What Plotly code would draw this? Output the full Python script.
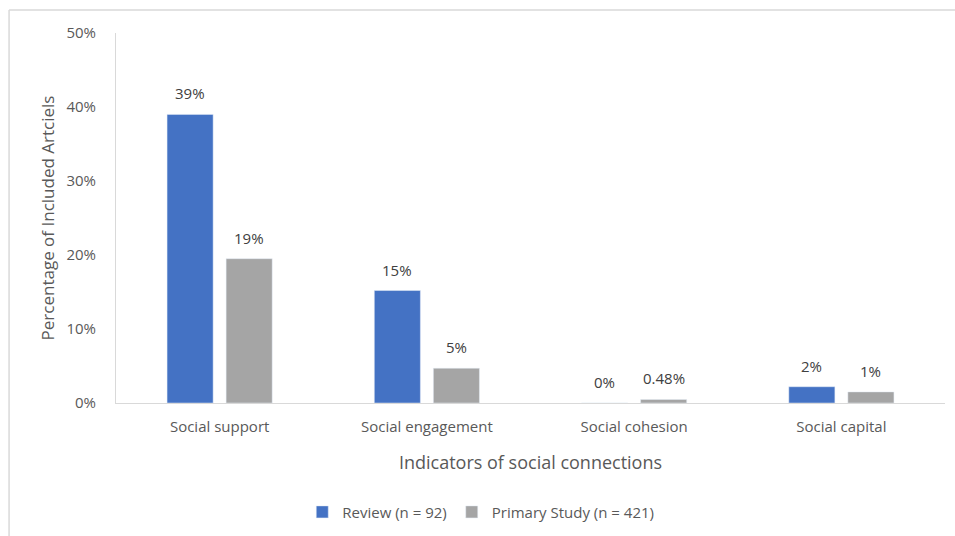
import plotly.graph_objects as go

categories = ["Social support", "Social engagement", "Social cohesion", "Social capital"]
review_vals = [39.0, 15.2, 0.0, 2.2]
primary_vals = [19.5, 4.7, 0.48, 1.5]
review_labels = ["39%", "15%", "0%", "2%"]
primary_labels = ["19%", "5%", "0.48%", "1%"]
y_ticks = [0, 10, 20, 30, 40, 50]
y_tick_text = ["0%", "10%", "20%", "30%", "40%", "50%"]

FONT = "Open Sans, Noto Sans, sans-serif"

fig = go.Figure()
fig.add_trace(go.Bar(
    x=categories, y=review_vals, name="Review (n = 92)",
    marker=dict(color="#4472C4"),
))
fig.add_trace(go.Bar(
    x=categories, y=primary_vals, name="Primary Study (n = 421)",
    marker=dict(color="#A5A5A5"),
))

annotations = []
for vals, labels, shift in [(review_vals, review_labels, -29.5), (primary_vals, primary_labels, 29.5)]:
    for c, v, t in zip(categories, vals, labels):
        annotations.append(dict(x=c, y=v, xref="x", yref="y", text=t, showarrow=False,
                                xshift=shift, yshift=21, yanchor="middle",
                                font=dict(size=15, color="#404040", family=FONT)))

fig.update_layout(
    width=955, height=536,
    margin=dict(l=116, r=10, t=33, b=133, autoexpand=False),
    paper_bgcolor="white", plot_bgcolor="white",
    barmode="group", bargap=0.43, bargroupgap=0.22,
    font=dict(family=FONT, color="#595959", size=15),
    showlegend=True,
    legend=dict(orientation="h", x=0.44, xanchor="center", y=-0.295, yanchor="middle",
                font=dict(size=15, color="#595959"), itemwidth=30,
                traceorder="normal"),
    annotations=annotations,
    shapes=[
        dict(type="line", xref="paper", yref="paper", x0=-0.129, x1=1.02, y0=1.062, y1=1.062,
             line=dict(color="#D9D9D9", width=1.5)),
        dict(type="line", xref="paper", yref="paper", x0=-0.129, x1=-0.129, y0=1.062, y1=-0.37,
             line=dict(color="#D9D9D9", width=1.5)),
    ],
)
fig.update_xaxes(
    automargin=False,
    showline=True, linecolor="#D9D9D9", linewidth=1, showgrid=False, ticks="",
    tickfont=dict(size=15, color="#595959"), ticklabelstandoff=10,
    title=dict(text="Indicators of social connections", font=dict(size=18, color="#595959"), standoff=21),
)
fig.update_yaxes(
    automargin=False,
    range=[0, 50], tickvals=y_ticks, ticktext=y_tick_text,
    showline=True, linecolor="#D9D9D9", linewidth=1, showgrid=False, ticks="",
    tickfont=dict(size=15, color="#595959"), ticklabelstandoff=16,
    zeroline=False,
    title=dict(text="Percentage of Included Artciels", font=dict(size=17, color="#595959"), standoff=7),
)

fig.write_html("out.html")
